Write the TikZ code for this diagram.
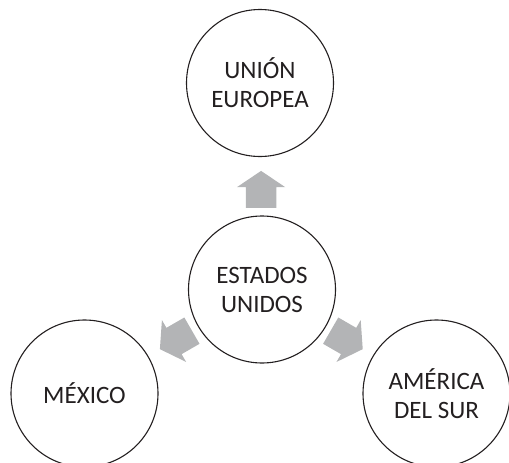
\documentclass[tikz,border=0pt]{standalone}
\usepackage{fontspec}
\setmainfont{Carlito}
\usetikzlibrary{shapes.arrows,calc}
\definecolor{arrowgray}{RGB}{179,180,182}
\definecolor{inkdark}{RGB}{35,31,32}
\tikzset{
  region/.style={circle,draw=inkdark,line width=1.1pt,minimum size=147pt,inner sep=0pt,
    align=center,text=inkdark,font=\fontsize{25}{29}\selectfont},
  flow/.style={single arrow,fill=arrowgray,draw=none,inner xsep=0pt,inner ysep=15pt,
    minimum height=37pt,single arrow head extend=9pt,
    single arrow tip angle=112,single arrow head indent=0pt}
}
\begin{document}
\begin{tikzpicture}[x=1pt,y=-1pt]
    \useasboundingbox (0,0) rectangle (509,463);
    \node[region] (usa) at (262,289.5) {ESTADOS\\UNIDOS};
    \node[region] (ue) at (260,83) {UNIÓN\\EUROPEA};
    \node[region] (mex) at (84.5,393.5) {MÉXICO};
    \node[region] (sur) at (436.5,393.5) {AMÉRICA\\DEL SUR};
    \node[flow,rotate=90] (toue) at ($(usa)!0.46!(ue)$) {};
    \node[flow,rotate=210] (tomex) at ($(usa)!0.46!(mex)$) {};
    \node[flow,rotate=330] (tosur) at ($(usa)!0.46!(sur)$) {};
\end{tikzpicture}
\end{document}
